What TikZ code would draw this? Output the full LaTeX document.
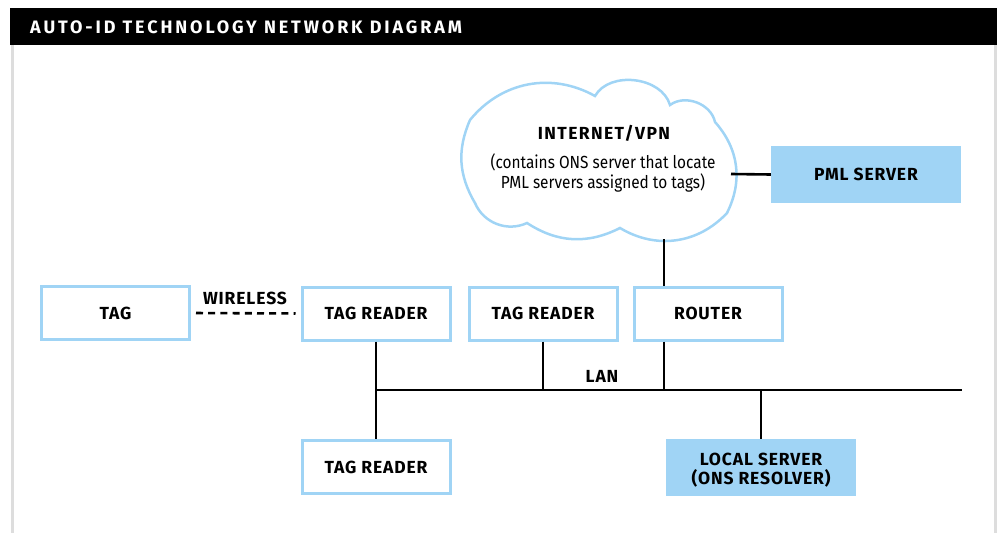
\documentclass[tikz,border=0pt]{standalone}
\usepackage{fontspec}
\setmainfont{Fira Sans}[FakeStretch=0.88]
\newfontfamily\lblfont{Fira Sans}[LetterSpace=5]
\newfontfamily\inetfont{Fira Sans}[LetterSpace=8]
\newfontfamily\titlefont{Fira Sans}[LetterSpace=16]
\definecolor{lblue}{RGB}{160,212,245}
\definecolor{lgray}{RGB}{221,221,221}
\begin{document}
\begin{tikzpicture}[x=1pt,y=1pt,
  font=\fontsize{17.5}{20}\selectfont,
  lbl/.style={font=\fontsize{17.5}{19}\selectfont\lblfont\bfseries,inner sep=0pt},
  outbox/.style={lbl,draw=lblue,line width=3pt,minimum width=148,minimum height=53},
  fillbox/.style={lbl,fill=lblue,minimum width=190,minimum height=57,align=center},
  wire/.style={line width=2.6pt,black}]
\useasboundingbox (0,0) rectangle (997,-533);
% frame
\fill[black] (10,-8) rectangle (997,-45);
\draw[lgray,line width=3pt] (12,-45) -- (12,-533);
\draw[lgray,line width=3pt] (995,-45) -- (995,-533);
\node[anchor=west,text=white,inner sep=0pt,font=\fontsize{18}{20}\selectfont\titlefont\bfseries] (title) at (30,-27) {AUTO-ID TECHNOLOGY NETWORK DIAGRAM};
% cloud
\draw[lblue,line width=2.5pt]
  (470,-120) to[bend left=40] (595,-96)
  to[bend left=67] (670,-105)
  to[bend left=57] (715,-122)
  to[bend left=34] (727,-213)
  to[bend left=39] (620,-228)
  to[bend left=30] (527,-223)
  to[bend left=46] (475,-203)
  to[bend left=27] (470,-120) -- cycle;
\node[inner sep=0pt,font=\fontsize{17.5}{19}\selectfont\inetfont\bfseries] (inet) at (604,-133) {INTERNET/VPN};
\node[align=center,inner sep=0pt] (inettxt) at (603,-173) {(contains ONS server that locate\\PML servers assigned to tags)};
\coordinate (cloudS) at (664,-239);
\coordinate (cloudE) at (731,-174);
% boxes
\node[outbox] (tag) at (115.5,-313) {TAG};
\node[outbox] (reader1) at (376,-313.5) {TAG READER};
\node[outbox] (reader2) at (543,-313.5) {TAG READER};
\node[outbox] (router) at (708,-313.5) {ROUTER};
\node[outbox] (reader3) at (376,-467) {TAG READER};
\node[fillbox] (pml) at (866,-174.5) {PML SERVER};
\node[fillbox,text height=36pt] (local) at (761,-467.5) {LOCAL SERVER\\(ONS RESOLVER)};
% connectors
\draw[wire,dash pattern=on 7pt off 5.2pt,shorten <=5pt,shorten >=5pt] (tag.east) -- (reader1.west);
\node[lbl] (wl) at (245,-298) {WIRELESS};
\coordinate (busL) at (375,-390);
\coordinate (busR) at (962,-390);
\coordinate (rt) at (664,-390);
\draw[wire] (busL) -- (busR);
\draw[wire] (reader1.south) -- (reader3.north);
\draw[wire] (reader2.south) -- (reader2.south |- busL);
\draw[wire] (rt |- router.south) -- (rt);
\draw[wire] (cloudS) -- (cloudS |- router.north);
\draw[wire] (cloudE) -- (pml.west);
\draw[wire] (local.north) -- (local.north |- busL);
\node[lbl] (lan) at (602,-376) {LAN};
\end{tikzpicture}
\end{document}
